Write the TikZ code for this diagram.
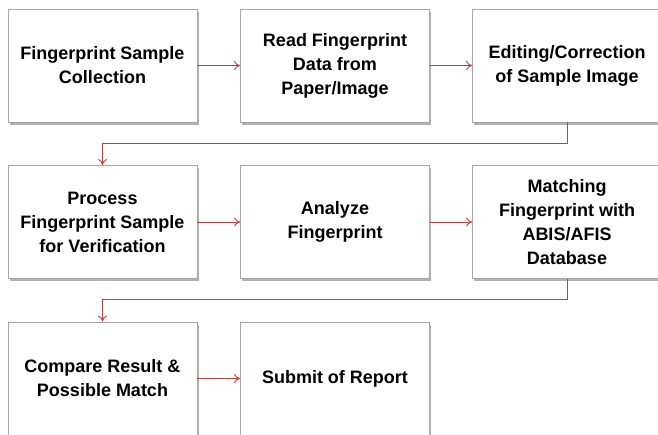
\documentclass[tikz,border=0pt]{standalone}
\usepackage{fontspec}
\setmainfont{Liberation Sans}
\usetikzlibrary{shadows,arrows.meta}
\definecolor{flowred}{RGB}{200,60,60}
\tikzset{
  stepbox/.style={draw=black!35, line width=0.8pt, fill=white, minimum width=189pt, minimum height=113pt,
    align=center, font=\fontsize{18}{24}\selectfont\bfseries,
    drop shadow={shadow xshift=1.5pt, shadow yshift=-2.5pt, opacity=0.5, fill=black!60}},
  flow/.style={draw=flowred, line width=0.9pt, -{To[length=6pt,width=9pt]}}
}
\begin{document}
\begin{tikzpicture}[x=1pt,y=1pt]
      \clip (0,0) rectangle (658,-434);
      \fill[white] (0,0) rectangle (658,-434);
      \draw
        (102.5,-65.5) node[stepbox] (collect){Fingerprint Sample\\Collection}
        (335,-65.5) node[stepbox] (read){Read Fingerprint\\Data from\\Paper/Image}
        (567,-65.5) node[stepbox] (edit){Editing/Correction\\of Sample Image}
        (102.5,-222) node[stepbox] (process){Process\\Fingerprint Sample\\for Verification}
        (335,-222) node[stepbox] (analyze){Analyze\\Fingerprint}
        (567,-222) node[stepbox] (match){Matching\\Fingerprint with\\ABIS/AFIS\\Database}
        (102.5,-378.5) node[stepbox] (compare){Compare Result \&\\Possible Match}
        (335,-378.5) node[stepbox] (report){Submit of Report};
      \begin{scope}[flow]
        \draw (collect) to (read);
        \draw (read) to (edit);
        \draw (edit.south) -- ++(0,-21) -| (process.north);
        \draw (process) to (analyze);
        \draw (analyze) to (match);
        \draw (match.south) -- ++(0,-21) -| (compare.north);
        \draw (compare) to (report);
      \end{scope}
    \end{tikzpicture}
\end{document}
